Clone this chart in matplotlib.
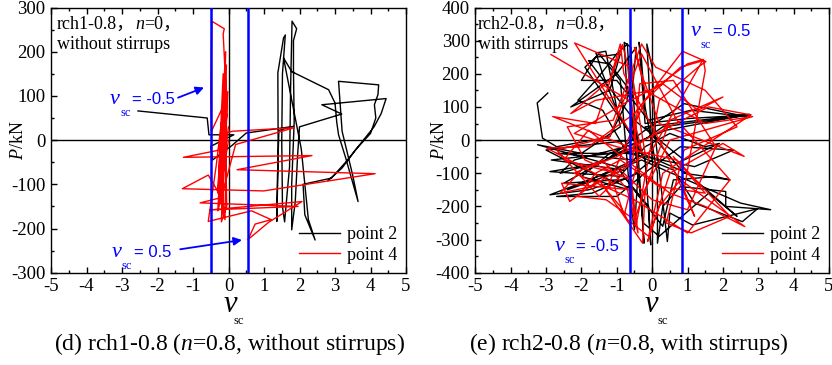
import matplotlib
matplotlib.use("Agg")
import matplotlib.pyplot as plt
from matplotlib.ticker import MultipleLocator

plt.rcParams['font.family'] = ['Liberation Serif', 'Noto Sans CJK SC']
plt.rcParams['axes.unicode_minus'] = False
plt.rcParams['mathtext.fontset'] = 'custom'
plt.rcParams['mathtext.rm'] = 'Liberation Serif'
plt.rcParams['mathtext.it'] = 'Liberation Serif:italic'

# ---------------- data: panel (d) rch1-0.8 ----------------
d_p2_x = [-2.55, -0.60, -0.55, 0.15, -0.50, -0.45, 0.10, 0.50, 1.83,
          1.42, 1.38, 1.36, 1.40, 1.39, 1.55, 1.60, 1.52, 1.50, 1.52, 1.58, 1.72, 1.75, 1.79,
          1.92, 1.83, 1.83, 1.85, 1.78, 1.78, 1.88, 1.95, 2.00,
          3.19, 2.63, 4.44, 4.30, 4.10, 3.70, 3.30, 2.90,
          2.10, 2.15, 2.44, 2.25, 2.05,
          1.55, 1.78, 2.82, 3.00, 3.05, 3.10, 3.30, 3.65, 3.50, 3.20, 3.10,
          4.23, 4.21, 4.11, 4.15, 4.00, 3.60, 3.20, 2.80]
d_p2_y = [66, 50, 12, 12, -14, -45, -12, 16, 31,
          22, -80, -184, -40, 152, 231, 238, 150, 0, -150, -185, -60, 120, 269,
          252, 225, 160, 40, -100, -203, -140, -30, 30,
          59, 80, 94, 60, 30, -10, -50, -86,
          -100, -169, -226, -180, -20,
          186, 155, 114, 84, 40, 12, -40, -139, -80, 20, 133,
          125, 103, 80, 50, 15, -20, -63, -92]

d_p4_x = [0.00, -0.20, -0.10, -0.05, -0.15, -0.12, -0.47, -0.50, -0.48, -0.10, -0.05, -0.20,
          -0.10, -0.25, -0.15, -0.30, -0.08, -0.18, -0.02, -0.22, -0.06, -0.10, -1.27, 2.35,
          0.24, 4.13, 0.99, -1.30, -0.57, -0.20, -0.80, 1.96, -0.52, 2.07, 1.13, 0.55, 0.75,
          1.20, 0.65, -0.57, -0.35, -0.20, -0.15, -0.25, 0.10, 1.85, 0.20, -0.10, -0.30,
          -0.12, -0.20, -0.05, -0.15, 0.00]
d_p4_y = [0, -100, -180, 80, 240, 252, 269, 100, 20, 85, -150, -185,
          60, -140, 150, -120, 200, -160, 110, -90, 170, -20, -39, -35,
          -67, -76, -115, -110, -79, -130, -142, -150, -158, -139, -186, -225, -190,
          -180, -160, -184, -60, 40, -170, 10, 20, 28, -10, -100, -160,
          130, -130, 60, -60, 30]

# ---------------- data: panel (e) rch2-0.8 ----------------
e_p2_x = [-2.95, -3.25, -3.10, -2.70, -1.20, -0.70, -0.79, -0.60, -0.55, -0.40, -0.23, -0.30,
          -1.00, -3.24, -2.00, -0.90, -1.31, -1.59, -1.40, -1.00, -0.20, -0.04, -0.10, -0.80,
          -2.89, -1.50, -0.50, 0.30, 2.79, 1.00, -0.20, -0.37, -0.30, -0.20, 0.15, 0.15,
          0.30, 0.80, 2.08, 2.08, 3.35, 2.50, 1.20, -0.30, -2.89, -1.80, -0.60, 0.00,
          -0.10, -0.15, 0.00, 0.10, 0.43, 0.50, 1.14, 2.98, 2.55, 1.20, 0.60, -0.80,
          -2.50, -1.00, -0.20, 0.50, 1.50, 1.90, 0.90, -0.50, -1.80, -1.20, -0.70, -0.40,
          -2.20, -2.60, -1.30, -0.20, 0.90, 2.70, 1.10, -0.10, -1.00, -2.00, -1.60, -0.90,
          -1.20, -2.30, -1.00, -0.45, -0.60, -0.25, 0.20, 1.60, 2.40, 1.00, -0.30,
          -2.70, -0.50, -2.40, -0.80, -2.85, -0.30, -1.90, -1.50, -0.90, -0.60, -0.50, -0.40,
          -1.70, -2.70, -1.00, -0.10, 0.80, 2.30, 1.20, -0.70, -1.40, -2.10, -1.60, -1.00,
          -0.70, -0.55, -2.30, -3.00, -1.90, -0.50, 0.30, 0.60, 1.80, 2.20, 0.90, -0.20,
          2.75, 0.40, -1.20, -2.00, -0.65]
e_p2_y = [142, 112, 6, -20, 10, 120, 295, 280, 150, -40, -311, -180,
          -80, -14, -40, 40, 268, 263, 200, 90, -60, -316, -200, -110,
          -95, -70, -20, 40, 76, 65, 50, 295, 240, 100, -100, -311,
          -200, -140, -155, -200, -210, -190, -130, -60, -165, -150, -110, -60,
          200, 290, 220, 0, -306, -220, -256, -207, -246, -190, -90, -30,
          -130, -120, -20, 20, -20, -10, -60, 60, 240, 230, 160, -10,
          -60, -100, -60, 30, 110, 70, 90, 60, 180, 180, 250, 260,
          150, 100, 200, 280, 100, -250, -290, -160, -230, -100, -40,
          -40, -60, -150, -90, -60, -30, 220, 260, 180, -200, -270, -100,
          -160, -170, -170, -90, -20, -30, -80, -40, 90, 120, 180, 260,
          290, 0, -20, -30, -90, -150, -260, -120, -110, -120, -100, 40,
          78, 30, -40, -110, -150]

e_p4_x = [-2.86, -0.65, -0.30, -2.19, -0.60, -0.20, -2.81, -1.60, -0.84, -0.70, -0.40, -0.79,
          -1.10, -2.98, -1.80, -0.50, 0.86, 1.52, 1.30, 0.20, -0.46, -0.60, -2.56, -2.33,
          -1.50, -0.27, -0.20, 0.50, 2.84, 1.50, -0.20, -0.50, -0.30, 0.20, 2.60, 2.00,
          0.50, -0.13, 0.20, 0.80, 2.62, 1.50, 0.50, -0.50, -1.80, -2.50, -1.00, 0.00,
          1.44, 1.00, 0.00, -1.60, -2.30, -1.20, -0.90, -0.80, 0.40, 1.20, 0.90, 1.50,
          1.45, 0.80, -0.20, -1.30, -0.90, -0.70, -0.10, 0.30, 2.79, 1.60, 0.10, -1.00,
          -2.00, -2.60, -1.70, -0.55, -0.35, 0.60, 1.80, 1.00, 0.00, -0.80, -1.50, -2.70,
          -1.20, -0.30, 0.70, 1.70, 2.20, 1.00, -0.50,
          -2.20, -1.40, -0.70, -0.40, -0.60, -1.90, -2.40, -1.10, -0.30, 0.10, 1.50, 2.40,
          0.90, 0.40, 1.10, 2.20, 0.70, -1.00, -2.20, -0.80, 0.30, 1.30, 2.00, 0.50,
          -0.50, -1.30, -2.10, -1.60, -0.90, 0.20, 1.50, 0.60]
e_p4_y = [258, 120, -30, 293, 220, -40, 71, 50, 288, 230, -60, -226,
          -130, -24, -20, 80, 268, 237, 220, 120, -261, -150, -130, -185,
          -120, -311, -150, 0, 71, 50, 150, 280, 200, 50, -49, -10,
          -100, -306, -200, -120, -261, -200, -160, -80, 30, -60, -100, -30,
          243, 230, 150, 120, 80, 180, 290, 200, -40, -230, -150, 210,
          240, 220, 120, -150, -200, -240, -290, -100, 76, 100, 20, -50,
          -90, -160, -140, -60, 170, 180, -20, -210, -180, -100, -170, -30,
          10, 260, 60, -60, -120, -280, -180,
          -100, -60, -150, -280, -120, -60, 40, 60, 290, 220, 150, 40,
          -30, -250, -280, -230, -60, -20, 20, 110, 170, 90, 130, 60,
          -240, -180, -170, -100, -60, -140, -160, -50]

caption_d = "(d) rch1-0.8 ($n$=0.8, without stirrups)"
caption_e = "(e) rch2-0.8 ($n$=0.8, with stirrups)"

# ---------------- figure ----------------
fig = plt.figure(figsize=(8.32, 3.65), dpi=100)
W, H = 832.0, 365.0
ax1 = fig.add_axes([51 / W, (H - 272.7) / H, 355 / W, 265.2 / H])
ax2 = fig.add_axes([475.3 / W, (H - 272.7) / H, 353.7 / W, 265.2 / H])

BLUE = (0, 0, 1)


def style_axis(ax, ylim, ymaj):
    ax.set_xlim(-5, 5)
    ax.set_ylim(*ylim)
    ax.xaxis.set_major_locator(MultipleLocator(1))
    ax.xaxis.set_minor_locator(MultipleLocator(0.5))
    ax.yaxis.set_major_locator(MultipleLocator(ymaj))
    ax.yaxis.set_minor_locator(MultipleLocator(ymaj / 2))
    ax.tick_params(which='both', direction='in', top=True, right=False, labelsize=13.5,
                   width=1.0)
    ax.tick_params(which='major', length=4.5)
    ax.tick_params(which='minor', length=2.5)
    ax.tick_params(axis='x', pad=4)
    ax.tick_params(axis='y', pad=4)
    for s in ax.spines.values():
        s.set_linewidth(1.0)
    ax.axhline(0, color='black', lw=1.0, zorder=1)
    ax.axvline(0, color='black', lw=1.0, zorder=1)


def rich(ax, x, y, parts, size):
    t = ax.text(x, y, parts[0][0], transform=ax.transAxes, style=parts[0][1],
                fontsize=size, va='bottom', ha='left')
    for s, st in parts[1:]:
        t = ax.annotate(s, xy=(1, 0), xycoords=t, style=st, fontsize=size,
                        va='bottom', ha='left')


def vsc_label(ax, x, y, rest):
    ax.annotate("v", xy=(x, y), xycoords='data', color=BLUE, style='italic', fontsize=16,
                family='Liberation Serif', ha='center', va='baseline')
    ax.annotate("sc", xy=(x, y), xycoords='data', xytext=(7.5, -8.5),
                textcoords='offset points', color=BLUE, fontsize=9,
                family='Liberation Serif', ha='center', va='baseline')
    ax.annotate(rest, xy=(x, y), xycoords='data', xytext=(12.5, 0),
                textcoords='offset points', color=BLUE, fontsize=12,
                family='Liberation Sans', ha='left', va='baseline')


# ---- panel d ----
style_axis(ax1, (-300, 300), 100)
ax1.plot(d_p2_x, d_p2_y, color='black', lw=1.0, label='point 2', zorder=2)
ax1.plot(d_p4_x, d_p4_y, color='red', lw=1.0, label='point 4', zorder=3)
ax1.axvline(-0.5, color=BLUE, lw=1.8, zorder=4)
ax1.axvline(0.55, color=BLUE, lw=1.8, zorder=4)
vsc_label(ax1, -3.2, 82, "= -0.5")
ax1.annotate("", xy=(-0.69, 119), xytext=(-1.42, 96),
             arrowprops=dict(arrowstyle='-|>', color=BLUE, lw=1.3, mutation_scale=12,
                             shrinkA=0, shrinkB=0))
vsc_label(ax1, -3.15, -265, "= 0.5")
ax1.annotate("", xy=(0.38, -226), xytext=(-1.36, -247),
             arrowprops=dict(arrowstyle='-|>', color=BLUE, lw=1.3, mutation_scale=12,
                             shrinkA=0, shrinkB=0))
rich(ax1, 0.017, 0.905, [("rch1-0.8，", 'normal'), ("n", 'italic'), ("=0，", 'normal')], 13)
ax1.text(0.017, 0.83, "without stirrups", transform=ax1.transAxes, fontsize=13,
         va='bottom', ha='left')
ax1.legend(loc='lower right', frameon=False, fontsize=13, handlelength=2.3,
           handletextpad=0.35, labelspacing=0.2, borderaxespad=0.3, borderpad=0.2)
ax1.set_ylabel("$P$/kN", fontsize=13)
ax1.yaxis.set_label_coords(-0.068, 0.5)

# ---- panel e ----
style_axis(ax2, (-400, 400), 100)
ax2.plot(e_p2_x, e_p2_y, color='black', lw=1.0, label='point 2', zorder=2)
ax2.plot(e_p4_x, e_p4_y, color='red', lw=1.0, label='point 4', zorder=3)
ax2.axvline(-0.62, color=BLUE, lw=1.8, zorder=4)
ax2.axvline(0.84, color=BLUE, lw=1.8, zorder=4)
vsc_label(ax2, 1.23, 313, "= 0.5")
vsc_label(ax2, -2.63, -336, "= -0.5")
rich(ax2, 0.007, 0.905, [("rch2-0.8，", 'normal'), ("n", 'italic'), ("=0.8，", 'normal')], 13)
ax2.text(0.007, 0.83, "with stirrups", transform=ax2.transAxes, fontsize=13,
         va='bottom', ha='left')
ax2.legend(loc='lower right', frameon=False, fontsize=13, handlelength=2.3,
           handletextpad=0.35, labelspacing=0.2, borderaxespad=0.3, borderpad=0.2)
ax2.set_ylabel("$P$/kN", fontsize=13)
ax2.yaxis.set_label_coords(-0.077, 0.5)

# x labels "v_sc"
for ax, vx, sx in ((ax1, 0.504, 0.528), (ax2, 0.497, 0.530)):
    ax.text(vx, -0.148, "v", transform=ax.transAxes, style='italic', fontsize=22,
            ha='center', va='baseline')
    ax.text(sx, -0.193, "sc", transform=ax.transAxes, fontsize=9,
            ha='center', va='baseline')

fig.text(229 / W, 15 / H, caption_d, fontsize=17, ha='center', va='baseline')
fig.text(628.5 / W, 15 / H, caption_e, fontsize=17, ha='center', va='baseline')

fig.savefig("out.png", dpi=100)
